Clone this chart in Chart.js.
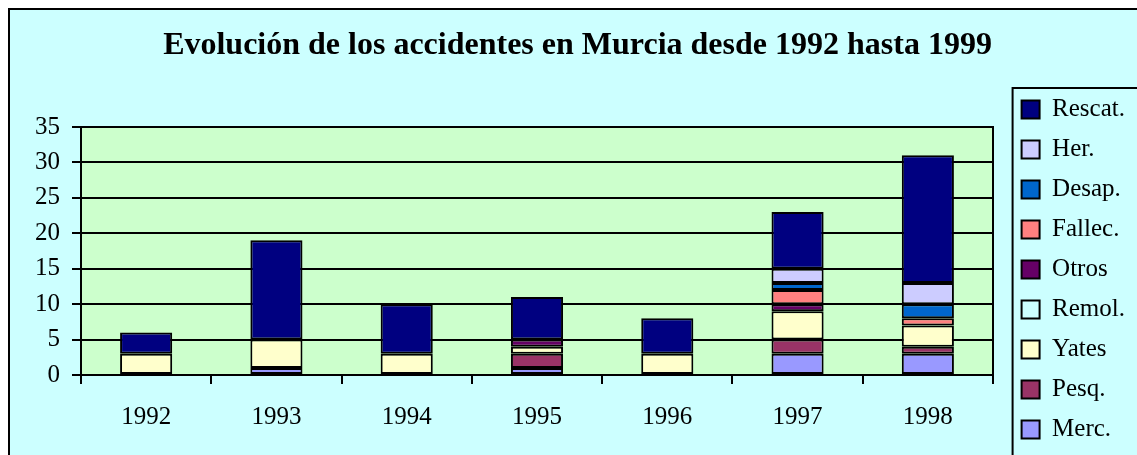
<!DOCTYPE html>
<html>
<head>
<meta charset="utf-8">
<script src="https://cdn.jsdelivr.net/npm/chart.js@4"></script>
<style>
    body { margin: 0; background: #ffffff; }
    canvas { display: block; }
</style>
</head>
<body>
<canvas id="accidentesChart" width="1137" height="455"></canvas>
<script>
// Données du graphique
const annees = ['1992', '1993', '1994', '1995', '1996', '1997', '1998'];
const merc    = [0, 1, 0, 1, 0, 3, 3];
const pesq    = [0, 0, 0, 2, 0, 2, 1];
const yates   = [3, 4, 3, 1, 3, 4, 3];
const remol   = [0, 0, 0, 0, 0, 0, 0];
const otros   = [0, 0, 0, 1, 0, 1, 0];
const fallec  = [0, 0, 0, 0, 0, 2, 1];
const desap   = [0, 0, 0, 0, 0, 1, 2];
const her     = [0, 0, 0, 0, 0, 2, 3];
const rescat  = [3, 14, 7, 6, 5, 8, 18];
const yTicks  = [0, 5, 10, 15, 20, 25, 30, 35];

const LARGEUR = 1137;
const PAD_GAUCHE = 20;
const PAD_DROITE = 2;
const PAD_BAS = -2;

document.addEventListener("DOMContentLoaded", function() {
    createAccidentesChart();
});

function serie(label, data, color) {
    return {
        label: label,
        data: data,
        backgroundColor: color,
        borderColor: '#000000',
        borderWidth: 2,
        borderSkipped: false,
        barPercentage: 0.4,
        categoryPercentage: 1.0
    };
}

// Fond, cadre et zone de tracé
const fondPlugin = {
    id: 'fond',
    beforeDraw(chart) {
        const ctx = chart.ctx;
        const a = chart.chartArea;
        ctx.save();
        ctx.fillStyle = '#ffffff';
        ctx.fillRect(0, 0, chart.width, chart.height);
        ctx.fillStyle = '#ccffff';
        ctx.fillRect(9, 9, chart.width, chart.height);
        ctx.fillStyle = '#000000';
        ctx.fillRect(8, 8, 2, chart.height);
        ctx.fillRect(8, 8, chart.width, 2);
        ctx.fillStyle = '#ccffcc';
        ctx.fillRect(a.left, a.top, a.right - a.left, a.bottom - a.top);
        ctx.restore();
    },
    beforeDatasetsDraw(chart) {
        const ctx = chart.ctx;
        const a = chart.chartArea;
        ctx.save();
        ctx.strokeStyle = '#000000';
        ctx.lineWidth = 2;
        ctx.strokeRect(a.left, a.top, a.right - a.left, a.bottom - a.top);
        ctx.restore();
    },
    afterDraw(chart) {
        // cadre de la légende
        const boxes = chart.legend.legendHitBoxes;
        if (!boxes || !boxes.length) return;
        const ctx = chart.ctx;
        const x = boxes[0].left - 9;
        const y = boxes[0].top - 9;
        ctx.save();
        ctx.strokeStyle = '#000000';
        ctx.lineWidth = 2;
        ctx.strokeRect(x, y, chart.width + 20 - x, chart.height + 20 - y);
        ctx.restore();
    }
};

function createAccidentesChart() {
    const ctx = document.getElementById('accidentesChart').getContext('2d');

    const data = {
        labels: annees,
        datasets: [
            serie('Merc.', merc, '#9999ff'),
            serie('Pesq.', pesq, '#993366'),
            serie('Yates', yates, '#ffffcc'),
            serie('Remol.', remol, '#ccffff'),
            serie('Otros', otros, '#660066'),
            serie('Fallec.', fallec, '#ff8080'),
            serie('Desap.', desap, '#0066cc'),
            serie('Her.', her, '#ccccff'),
            serie('Rescat.', rescat, '#000080')
        ]
    };

    new Chart(ctx, {
        type: 'bar',
        data: data,
        plugins: [fondPlugin],
        options: {
            responsive: false,
            animation: false,
            layout: {
                padding: { left: PAD_GAUCHE, right: PAD_DROITE, top: 0, bottom: PAD_BAS }
            },
            plugins: {
                title: {
                    display: true,
                    text: 'Evolución de los accidentes en Murcia desde 1992 hasta 1999',
                    color: '#000000',
                    font: { family: 'Liberation Serif', size: 32, weight: 'bold', lineHeight: 1.2 },
                    padding: { top: 27, bottom: 61.6 }
                },
                legend: {
                    position: 'right',
                    align: 'end',
                    reverse: true,
                    labels: {
                        color: '#000000',
                        font: { family: 'Liberation Serif', size: 25 },
                        boxWidth: 18,
                        boxHeight: 18,
                        padding: 15
                    }
                },
                tooltip: { enabled: false }
            },
            scales: {
                x: {
                    stacked: true,
                    grid: {
                        display: true,
                        drawOnChartArea: false,
                        drawTicks: true,
                        tickLength: 9,
                        color: '#000000',
                        lineWidth: 2
                    },
                    border: { display: true, color: '#000000', width: 2 },
                    ticks: {
                        color: '#000000',
                        font: { family: 'Liberation Serif', size: 25 },
                        padding: 18,
                        maxRotation: 0
                    },
                    afterFit: function(scale) {
                        scale.height = 455 - PAD_BAS - 375;
                    }
                },
                y: {
                    stacked: true,
                    min: 0,
                    max: 35,
                    grid: {
                        color: '#000000',
                        lineWidth: 2,
                        tickLength: 9
                    },
                    border: { display: true, color: '#000000', width: 2 },
                    afterBuildTicks: function(scale) {
                        scale.ticks = yTicks.map(v => ({ value: v }));
                    },
                    ticks: {
                        color: '#000000',
                        font: { family: 'Liberation Serif', size: 25 },
                        padding: 12
                    },
                    afterFit: function(scale) {
                        scale.width = 81 - PAD_GAUCHE;
                    }
                },
                espace: {
                    type: 'linear',
                    position: 'right',
                    display: true,
                    grid: { display: false },
                    border: { display: false },
                    ticks: { display: false },
                    afterFit: function(scale) {
                        scale.width = LARGEUR - PAD_DROITE - scale.chart.legend.width - 993;
                    }
                }
            }
        }
    });
}
</script>
</body>
</html>
